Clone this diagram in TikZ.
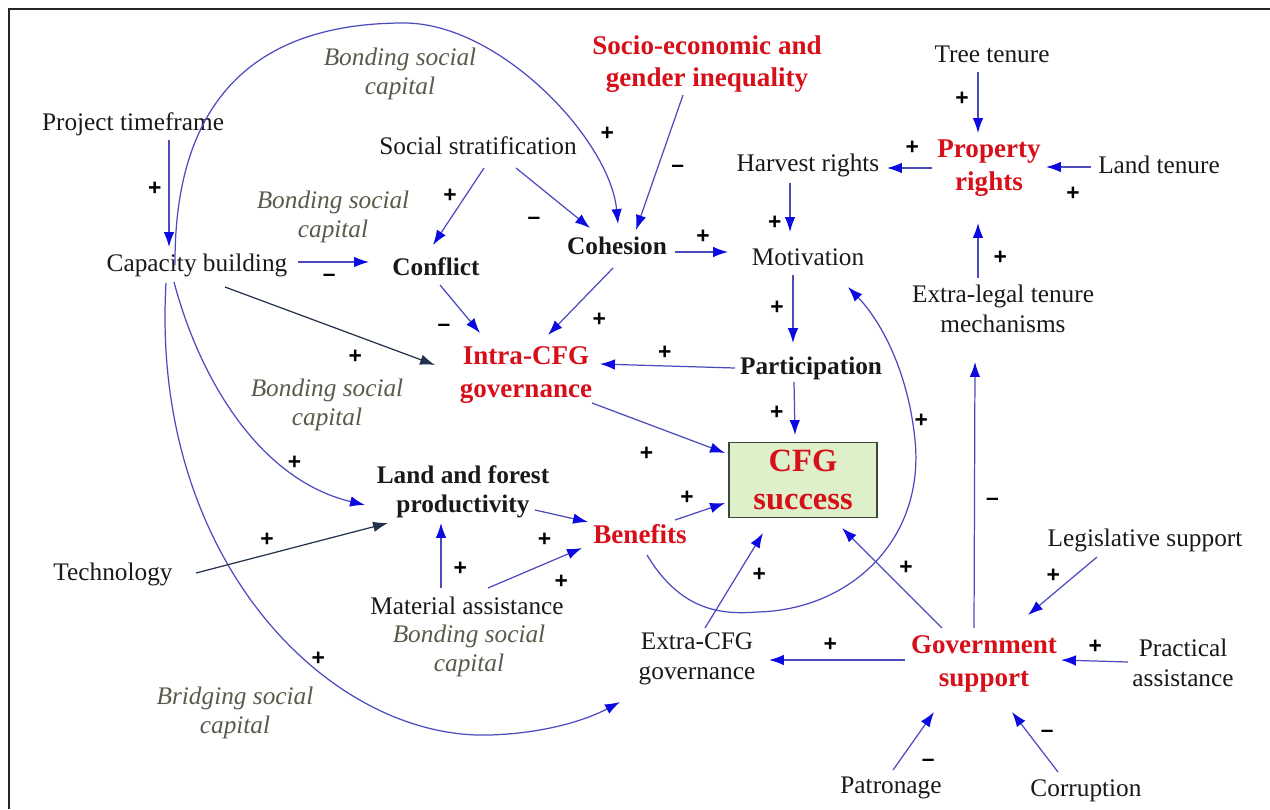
\documentclass[tikz,border=0pt]{standalone}
\usepackage{fontspec}
\setmainfont{Liberation Serif}
\newfontfamily\signfont{Liberation Sans}
\usetikzlibrary{positioning,calc,arrows.meta}

\definecolor{varblack}{RGB}{25,25,25}
\definecolor{cfgred}{RGB}{215,15,25}
\definecolor{capgray}{RGB}{90,90,75}
\definecolor{linkblue}{RGB}{75,75,190}
\definecolor{tipblue}{RGB}{10,10,225}
\definecolor{darkline}{RGB}{35,50,75}
\definecolor{boxgreen}{RGB}{222,240,202}
\definecolor{boxline}{RGB}{60,70,60}

\tikzset{
  plainvar/.style={text=varblack, align=center, inner sep=1pt, font=\fontsize{14.4}{16.8}\selectfont},
  boldvar/.style={plainvar, font=\bfseries\fontsize{14.4}{16.8}\selectfont},
  redvar/.style={plainvar, text=cfgred, font=\bfseries\fontsize{15.4}{18.5}\selectfont},
  capnote/.style={plainvar, text=capgray, font=\itshape\fontsize{14.4}{16.8}\selectfont},
  goalbox/.style={redvar, draw=boxline, fill=boxgreen, line width=0.8pt,
    minimum width=2.96cm, minimum height=1.5cm, font=\bfseries\fontsize{18.5}{22}\selectfont},
  link/.style={draw=linkblue, line width=0.7pt, -{Latex[length=8.5pt,width=6pt,color=tipblue]}},
  darklink/.style={draw=darkline, line width=0.7pt, -{Latex[length=8.5pt,width=6pt]}},
  pm/.style={font=\signfont\bfseries\fontsize{13}{13}\selectfont, text=black, inner sep=1pt,
    text height=8.5pt, text depth=0pt},
}

\begin{document}
\begin{tikzpicture}[x=0.02cm, y=-0.02cm]
\useasboundingbox (0,0) rectangle (1270,809);
\draw[line width=1.1pt, black!85] (9,809) -- (9,9) -- (1270,9);

% variables
\node[plainvar] (pt)     at (133,124)  {Project timeframe};
\node[plainvar] (cap)    at (197,265)  {Capacity building};
\node[plainvar] (tech)   at (113,574)  {Technology};
\node[plainvar] (strat)  at (478,146)  {Social stratification};
\node[redvar]   (ineq)   at (707,64)   {Socio-economic and\\gender inequality};
\node[plainvar] (tree)   at (992,54)   {Tree tenure};
\node[redvar]   (prop)   at (989,168)  {Property\\rights};
\node[plainvar] (harv)   at (808,165)  {Harvest rights};
\node[plainvar] (land)   at (1159,165) {Land tenure};
\node[plainvar] (mot)    at (808,257)  {Motivation};
\node[plainvar] (xlegal) at (1003,309) {Extra-legal tenure\\mechanisms};
\node[boldvar]  (conf)   at (436,267)  {Conflict};
\node[boldvar]  (coh)    at (617,246)  {Cohesion};
\node[redvar]   (intra)  at (526,375)  {Intra-CFG\\governance};
\node[boldvar]  (part)   at (811,368)  {Participation};
\node[goalbox]  (succ)   at (803,480)  {CFG\\success};
\node[boldvar]  (lfp)    at (463,492)  {Land and forest\\productivity};
\node[redvar]   (ben)    at (640,534)  {Benefits};
\node[plainvar] (mat)    at (467,606)  {Material assistance};
\node[plainvar] (xcfg)   at (697,659)  {Extra-CFG\\governance};
\node[redvar]   (gov)    at (984,664)  {Government\\support};
\node[plainvar] (legis)  at (1145,540) {Legislative support};
\node[plainvar] (pract)  at (1183,663) {Practical\\assistance};
\node[plainvar] (patr)   at (891,788)  {Patronage};
\node[plainvar] (corr)   at (1086,791) {Corruption};

% kinds of social capital
\node[capnote] (bond1)  at (400,74)  {Bonding social\\capital};
\node[capnote] (bond2)  at (333,217) {Bonding social\\capital};
\node[capnote] (bond3)  at (327,405) {Bonding social\\capital};
\node[capnote] (bond4)  at (469,651) {Bonding social\\capital};
\node[capnote] (bridge) at (235,713) {Bridging social\\capital};

% links on the left
\draw[link] ($(pt)+(36,16)$) -- node[pm, pos=.45, left=3pt] {+} ($(cap)+(-28,-18)$);
\draw[link] ($(cap)+(101,-3)$) -- node[pm, pos=.44, below=1.5pt] {\textendash} ($(conf)+(-67,-5)$);
\draw[link] ($(strat)+(6,22)$) -- node[pm, pos=.35, left=4pt] {+} ($(conf)+(-3,-22)$);
\draw[link] ($(strat)+(38,22)$) -- node[pm, pos=.49, below left={5.5pt and 5.5pt}] {\textendash} ($(coh)+(-27,-18)$);
\draw[link] ($(ineq)+(-24,31)$) -- node[pm, pos=.52, right=6pt] {\textendash} ($(coh)+(19,-16)$);
\draw[link] ($(cap)+(-22,0)$) .. controls (174,90) and (265,23) .. (404,23)
  .. controls (500,23) and (610,140) .. ($(coh)+(1,-22)$) node[pm, pos=.66, right=11pt] {+};
\draw[darklink] ($(cap)+(28,22)$) -- node[pm, pos=.62, below=6pt] {+} ($(intra)+(-91,-10)$);
\draw[link] ($(cap)+(-23,17)$) .. controls (200,380) and (260,480) .. ($(lfp)+(-98,13)$)
  node[pm, pos=.75, above=1pt] {+};
\draw[link] ($(cap)+(-31,18)$) .. controls (150,560) and (330,740) .. (490,735)
  node[pm, pos=.6, right=4pt] {+}
  .. controls (550,733) and (590,718) .. ($(xcfg)+(-77,43)$);
\draw[darklink] ($(tech)+(83,-1)$) -- node[pm, pos=.37, above=3pt] {+} ($(lfp)+(-75,31)$);

% links through the middle
\draw[link] ($(conf)+(4,18)$) -- node[pm, pos=.54, below left={2pt and 5pt}] {\textendash} ($(intra)+(-46,-42)$);
\draw[link] ($(coh)+(-4,22)$) -- node[pm, pos=.5, below right={4.4pt and 5.5pt}] {+} ($(intra)+(22,-40)$);
\draw[link] ($(coh)+(58,6)$) -- node[pm, pos=.53, above=3.5pt] {+} ($(mot)+(-80,-5)$);
\draw[link] ($(mot)+(-15,18)$) -- node[pm, pos=.47, left=4pt] {+} ($(part)+(-18,-25)$);
\draw[link] ($(part)+(-76,0)$) -- node[pm, pos=.52, above=2.5pt] {+} ($(intra)+(74,-11)$);
\draw[link] ($(part)+(-17,14)$) -- node[pm, pos=.57, left=5pt] {+} ($(succ)+(-8,-45)$);
\draw[link] ($(intra)+(66,28)$) -- node[pm, pos=.41, below=11pt] {+} ($(succ)+(-78,-27)$);
\draw[link] ($(lfp)+(72,18)$) -- node[pm, pos=.18, below=9.7pt] {+} ($(ben)+(-52,-12)$);
\draw[link] ($(ben)+(35,-14)$) -- node[pm, pos=.24, above=5pt] {+} ($(succ)+(-78,23)$);
\draw[link] ($(mat)+(-26,-18)$) -- node[pm, pos=.31, right=5.8pt] {+} ($(lfp)+(-22,31)$);
\draw[link] ($(mat)+(21,-18)$) -- node[pm, pos=.78, below=8pt] {+} ($(ben)+(-58,14)$);
\draw[link] ($(ben)+(7,21)$) .. controls (680,610) and (720,615) .. (757,612)
  .. controls (850,610) and (925,540) .. (915,440)
  .. controls (908,370) and (880,320) .. ($(mot)+(40,30)$) node[pm, pos=.1, right=0pt] {+};
\draw[link] ($(xcfg)+(8,-31)$) -- node[pm, pos=.57, right=7pt] {+} ($(succ)+(-40,53)$);

% property rights
\draw[link] ($(harv)+(-18,18)$) -- node[pm, pos=.8, left=3.5pt] {+} ($(mot)+(-18,-25)$);
\draw[link] ($(tree)+(-14,18)$) -- node[pm, pos=.43, left=4pt] {+} ($(prop)+(-11,-35)$);
\draw[link] ($(prop)+(-57,0)$) -- node[pm, pos=.44, above=6.5pt] {+} ($(harv)+(79,3)$);
\draw[link] ($(land)+(-68,2)$) -- node[pm, pos=.4, below=9pt] {+} ($(prop)+(57,-1)$);
\draw[link] ($(xlegal)+(-25,-31)$) -- node[pm, pos=.38, right=7.5pt] {+} ($(prop)+(-11,55)$);

% government support
\draw[link] ($(gov)+(-42,-36)$) -- node[pm, pos=.485, above right={1.5pt and 2pt}] {+} ($(succ)+(39,48)$);
\draw[link] ($(gov)+(-10,-36)$) -- node[pm, pos=.49, right=5.3pt] {\textendash} ($(xlegal)+(-28,53)$);
\draw[link] ($(gov)+(-79,-4)$) -- node[pm, pos=.55, above=3.5pt] {+} ($(xcfg)+(72,1)$);
\draw[link] ($(legis)+(-48,17)$) -- node[pm, pos=.49, above left={0.5pt and 0.5pt}] {+} ($(gov)+(44,-49)$);
\draw[link] ($(pract)+(-55,-1)$) -- node[pm, pos=.49, above=3pt] {+} ($(gov)+(77,-4)$);
\draw[link] ($(patr)+(2,-18)$) -- node[pm, pos=.39, below right={1pt and 6pt}] {\textendash} ($(gov)+(-50,48)$);
\draw[link] ($(corr)+(-28,-19)$) -- node[pm, pos=.5, above right={1pt and 2pt}] {\textendash} ($(gov)+(28,48)$);
\end{tikzpicture}
\end{document}
